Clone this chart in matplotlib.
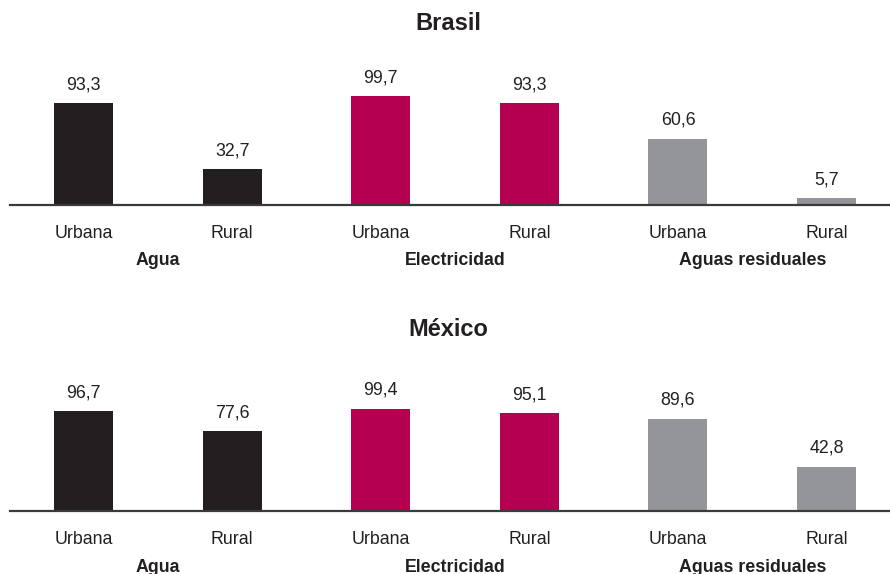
import matplotlib
matplotlib.use("Agg")
import matplotlib.pyplot as plt
from matplotlib import font_manager

names = {f.name for f in font_manager.fontManager.ttflist}
FONT = "Liberation Sans Narrow" if "Liberation Sans Narrow" in names else "Liberation Sans"
plt.rcParams["font.family"] = [FONT, "DejaVu Sans"]

categories = ["Urbana", "Rural", "Urbana", "Rural", "Urbana", "Rural"]
groups = ["Agua", "Electricidad", "Aguas residuales"]
brasil = [93.3, 32.7, 99.7, 93.3, 60.6, 5.7]
mexico = [96.7, 77.6, 99.4, 95.1, 89.6, 42.8]
value_labels_br = ["93,3", "32,7", "99,7", "93,3", "60,6", "5,7"]
value_labels_mx = ["96,7", "77,6", "99,4", "95,1", "89,6", "42,8"]
titles = ["Brasil", "México"]

colors = ["#231f20", "#231f20", "#b50052", "#b50052", "#939598", "#939598"]
TXT = "#231f20"

W, H = 890, 574
fig = plt.figure(figsize=(W / 100, H / 100), dpi=100)

def px_axes(left, top, right, bottom):
    return fig.add_axes([left / W, 1 - bottom / H, (right - left) / W, (bottom - top) / H])

panels = [
    (brasil, value_labels_br, titles[0], 204.5, 1.085, 23),
    (mexico, value_labels_mx, titles[1], 511.0, 1.03, 329),
]

x = list(range(len(categories)))
for vals, labs, title, base, scale, ty in panels:
    top = base - 140
    ax = px_axes(10, top, 890, base)
    ax.bar(x, vals, width=0.397, color=colors, zorder=2)
    ax.set_xlim(-0.495, 5.427)
    ax.set_ylim(0, 140 / scale)
    for s in ["top", "right", "left"]:
        ax.spines[s].set_visible(False)
    ax.spines["bottom"].set_color("#3a3a3a")
    ax.spines["bottom"].set_linewidth(1.6)
    ax.set_yticks([])
    ax.set_xticks(x)
    ax.set_xticklabels(categories, fontsize=12.8, color=TXT)
    ax.tick_params(axis="x", length=0, pad=14.5)
    for xi, v, l in zip(x, vals, labs):
        ax.annotate(l, (xi, v), xytext=(0, 10), textcoords="offset pixels",
                    ha="center", va="bottom", fontsize=12.8, color=TXT)
    for gi, g in enumerate(groups):
        ax.annotate(g, (2 * gi + 0.5, 0), xytext=(0, -56), textcoords="offset pixels",
                    ha="center", va="center", fontsize=12.8, fontweight="bold", color=TXT)
    fig.text(448 / W, 1 - ty / H, title, ha="center", va="center",
             fontsize=17, fontweight="bold", color=TXT)

fig.savefig("out.png", dpi=100)
